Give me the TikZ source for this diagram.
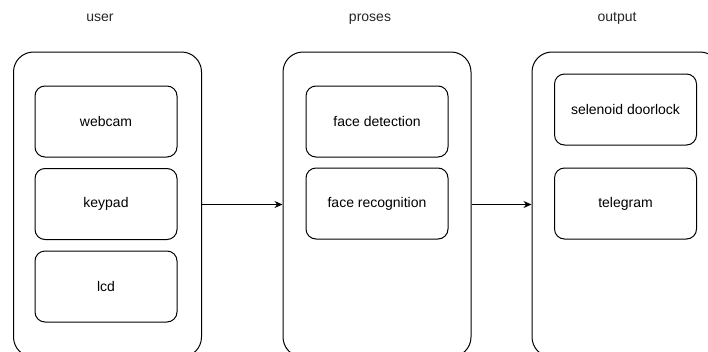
\documentclass[tikz,border=0pt]{standalone}
\usepackage{fontspec}
\setmainfont{Liberation Sans}
\usetikzlibrary{arrows.meta, positioning}

\begin{document}
\begin{tikzpicture}[x=1pt,y=-1pt,>={Stealth[length=8pt,width=7pt]},font=\fontsize{14}{16}\selectfont]
    \tikzstyle{group}=[draw=black, line width=1pt, rectangle, rounded corners=20pt, minimum width=188pt, minimum height=305pt, inner sep=0pt]
    \tikzstyle{part}=[draw=black, line width=1pt, rectangle, rounded corners=10pt, minimum width=142pt, minimum height=71pt, inner sep=0pt]
    \tikzstyle{title}=[anchor=base, text=black!85]

    \useasboundingbox (0,0) rectangle (708,351);

    % outer groups
    \node[group] (G-0) at (107.5,204.5) {};
    \node[group] (G-1) at (377,204.5) {};
    \node[group] (G-2) at (626,204.5) {};

    \node[title] (T-0) at (100,21) {user};
    \node[title] (T-1) at (370,21) {proses};
    \node[title] (T-2) at (617,21) {output};

	\foreach \x/\t in {0/webcam,1/keypad,2/lcd}{
		\pgfmathsetmacro\y{121.5+\x*82.5}
		\node[part] (U-\x) at (106,\y) {\t};
	}

	\foreach \x/\t in {0/face detection,1/face recognition}{
		\pgfmathsetmacro\y{121.5+\x*82}
		\node[part] (P-\x) at (377,\y) {\t};
	}

	\node[part] (O-0) at (625.5,109.5) {selenoid doorlock};
	\node[part] (O-1) at (625.5,203.5) {telegram};

	\draw[->, line width=1pt] (G-0) -- (G-1);
	\draw[->, line width=1pt] (G-1) -- (G-2);
\end{tikzpicture}
\end{document}
